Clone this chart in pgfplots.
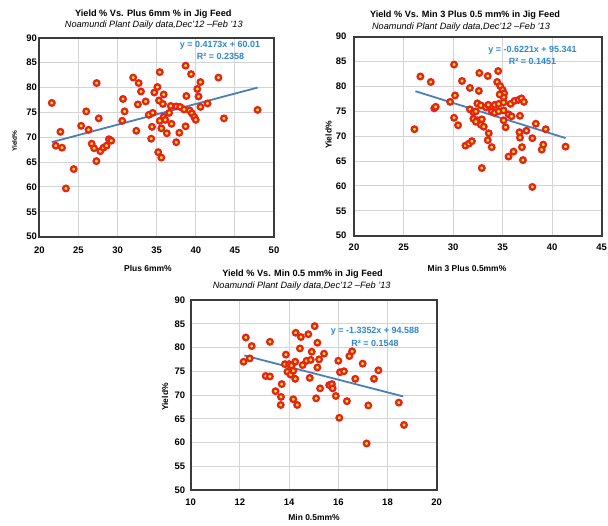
\documentclass[border=0pt]{standalone}
\usepackage{fontspec}
\setmainfont{Liberation Sans}
\usepackage{pgfplots}
\pgfplotsset{compat=1.18}
\definecolor{ptred}{RGB}{228,36,28}
\definecolor{ptyel}{RGB}{255,240,0}
\definecolor{trendc}{RGB}{74,126,187}
\definecolor{eqc}{RGB}{46,134,208}
\definecolor{gridc}{RGB}{212,212,212}
\definecolor{framec}{RGB}{60,60,60}
\pgfplotsset{
  jig/.style={
    scale only axis, anchor=south west,
    xmajorgrids, ymajorgrids,
    grid style={draw=gridc, line width=1pt},
    axis line style={draw=framec, line width=1.8pt},
    major tick length=0pt,
    ymin=50, ymax=90, ytick={50,55,...,90},
    tick label style={font=\bfseries\fontsize{9.5}{10}\selectfont, text=black},
    /pgf/number format/assume math mode=true,
  },
  pts/.style={only marks, mark=*, mark size=2.8pt, mark options={draw=ptred, fill=ptyel, line width=2.3pt}},
  trend/.style={no marks, draw=trendc, line width=1.8pt},
}
\newcommand{\ttl}{\bfseries\fontsize{9.2}{10}\selectfont}
\newcommand{\sub}{\itshape\fontsize{9.2}{10}\selectfont}
\newcommand{\lab}{\bfseries\fontsize{8.5}{10}\selectfont}
\newcommand{\eqf}{\bfseries\fontsize{9}{10}\selectfont\color{eqc}}
\begin{document}
\begin{tikzpicture}
\useasboundingbox (0bp,0bp) rectangle (608bp,526bp);
% ---------- Panel 1 ----------
\begin{axis}[jig, at={(39.3bp,289.3bp)}, width=234.7bp, height=198.9bp,
  xmin=20, xmax=50, xtick={20,25,...,50},
  yticklabel style={xshift=1bp}, xticklabel style={yshift=-7bp}]
\addplot[trend] coordinates {(21.6,69.02) (47.9,79.99)};
\addplot[pts] coordinates {
(21.6,76.9) (22.7,71.1) (22.1,68.3) (22.9,67.9) (23.4,59.7) (24.4,63.6)
(25.35,72.3) (26.0,75.2) (26.3,71.5) (27.33,80.9) (27.6,73.8) (26.7,68.7)
(27.0,67.8) (27.3,65.2) (27.8,67.2) (28.2,67.9) (28.6,68.3) (28.9,69.6)
(29.2,69.3) (30.7,77.7) (30.9,75.2) (30.6,73.3) (32.0,82.0) (32.7,80.9)
(33.0,79.2) (32.6,76.6) (33.6,77.2) (32.4,71.3) (34.7,79.0) (35.1,80.1)
(35.4,83.1) (34.0,74.5) (34.5,74.9) (34.4,72.1) (34.3,69.7) (35.2,67.0)
(35.6,65.9) (35.9,78.6) (35.3,77.4) (35.8,76.7) (36.8,76.3) (37.5,76.2)
(38.0,76.1) (38.5,75.6) (36.6,74.9) (35.9,74.1) (36.1,73.5) (35.4,73.3)
(35.6,71.8) (36.9,72.7) (36.3,70.8) (37.5,69.0) (37.9,70.9) (38.7,72.2)
(38.7,84.4) (39.4,82.7) (40.6,81.1) (40.2,79.7) (38.8,78.3) (40.35,78.2)
(40.6,76.1) (41.5,76.8) (39.2,75.4) (39.5,74.8) (39.8,74.1) (40.0,73.5)
(42.9,82.0) (43.6,73.8) (47.9,75.5)
};
\end{axis}
% ---------- Panel 2 ----------
\begin{axis}[jig, at={(354bp,290.3bp)}, width=247.7bp, height=199bp,
  xmin=20, xmax=45, xtick={20,25,...,45},
  yticklabel style={xshift=-4bp}, xticklabel style={yshift=-4.5bp}]
\addplot[trend] coordinates {(26.2,79.04) (41.35,69.62)};
\addplot[pts] coordinates {
(26.1,71.4) (26.7,82.0) (27.75,80.9) (28.1,75.6) (28.25,75.9) (29.7,76.9)
(30.1,84.4) (30.2,78.2) (30.9,81.1) (30.1,73.7) (30.5,72.2) (31.7,79.7)
(31.25,68.1) (31.6,68.5) (31.9,69.0) (31.7,75.4) (32.05,74.8) (32.3,75.0)
(32.65,82.7) (32.6,79.1) (32.45,76.6) (32.8,76.2) (33.5,82.1) (33.3,75.8)
(32.05,73.5) (32.45,73.2) (32.9,73.4) (32.3,72.9) (32.8,72.3) (33.1,71.9)
(32.9,63.6) (33.6,70.6) (33.5,69.2) (33.9,67.8) (33.55,76.3) (34.2,76.3)
(33.9,75.0) (34.2,74.7) (34.6,75.0) (34.55,83.1) (34.45,80.9) (34.75,80.1)
(35.0,79.3) (35.15,78.6) (35.1,77.8) (34.7,78.4) (34.6,76.5) (35.1,76.8)
(35.1,75.2) (35.6,74.4) (35.9,74.0) (35.1,73.2) (35.3,71.8) (35.6,65.9)
(35.8,76.5) (36.2,77.1) (36.6,77.3) (36.9,77.6) (37.15,76.9) (36.75,74.1)
(36.1,66.9) (36.7,70.8) (36.75,69.7) (37.4,71.1) (36.95,67.8) (37.05,65.2)
(38.0,69.6) (38.0,59.8) (38.35,72.5) (39.35,71.4) (39.1,68.3) (38.95,67.3)
(41.35,67.9)
};
\end{axis}
% ---------- Panel 3 ----------
\begin{axis}[jig, at={(190.7bp,36bp)}, width=246bp, height=190bp,
  xmin=10, xmax=20, xtick={10,12,...,20},
  yticklabel style={xshift=-2bp}, xticklabel style={yshift=-5bp}]
\addplot[trend] coordinates {(12.18,78.33) (18.64,69.70)};
\addplot[pts] coordinates {
(12.15,77.0) (12.24,82.1) (12.4,77.7) (12.48,80.3) (13.05,74.0) (13.22,73.9)
(13.22,81.2) (13.45,70.8) (13.67,69.6) (13.66,67.9) (13.7,72.3) (13.87,78.5)
(13.83,76.5) (14.0,76.5) (14.1,76.2) (14.25,77.0) (13.93,74.9) (14.06,74.3)
(14.17,75.1) (14.25,73.4) (14.17,69.1) (14.33,67.9) (14.27,83.1) (14.48,82.2)
(14.44,79.8) (14.55,76.3) (14.71,77.2) (14.78,82.8) (14.84,73.6) (14.88,77.4)
(14.92,79.1) (15.04,84.5) (15.15,81.0) (15.15,75.8) (15.22,77.5) (15.42,78.7)
(15.1,69.3) (15.26,71.4) (15.63,72.1) (15.74,72.3) (15.77,71.4) (15.9,69.8)
(16.0,77.2) (16.07,74.8) (16.23,75.0) (16.04,65.2) (16.35,68.7) (16.45,78.2)
(16.56,79.2) (16.69,73.4) (16.99,76.6) (17.15,59.8) (17.22,67.8) (17.45,73.4)
(17.63,75.2) (18.46,68.4) (18.67,63.7)
};
\end{axis}
% ---------- Texts ----------
\node at (153.3bp,512bp) {\ttl Yield \% Vs. Plus 6mm \% in Jig Feed};
\node at (153.8bp,501bp) {\sub Noamundi Plant Daily data,Dec'12 –Feb '13};
\node at (465bp,511bp) {\ttl Yield \% Vs. Min 3 Plus 0.5 mm\% in Jig Feed};
\node at (461bp,499.3bp) {\sub Noamundi Plant Daily data,Dec'12 –Feb '13};
\node at (302.5bp,252bp) {\ttl Yield \% Vs. Min 0.5 mm\% in Jig Feed};
\node at (301.7bp,240bp) {\sub Noamundi Plant Daily data,Dec'12 –Feb '13};
\node at (148bp,258bp) {\lab Plus 6mm\%};
\node at (467bp,258bp) {\lab Min 3 Plus 0.5mm\%};
\node at (314bp,9bp) {\lab Min 0.5mm\%};
\node[rotate=90] at (14.5bp,385bp) {\bfseries\fontsize{6.5}{7}\selectfont Yield\%};
\node[rotate=90] at (328.5bp,391bp) {\lab Yield\%};
\node[rotate=90] at (165bp,129bp) {\lab Yield\%};
\node at (220bp,480.3bp) {\eqf y = 0.4173x + 60.01};
\node at (220.5bp,469.3bp) {\eqf R² = 0.2358};
\node at (532.5bp,476bp) {\eqf y = -0.6221x + 95.341};
\node at (532.5bp,464.3bp) {\eqf R² = 0.1451};
\node at (375bp,194.3bp) {\eqf y = -1.3352x + 94.588};
\node at (375bp,182.7bp) {\eqf R² = 0.1548};
\end{tikzpicture}
\end{document}
